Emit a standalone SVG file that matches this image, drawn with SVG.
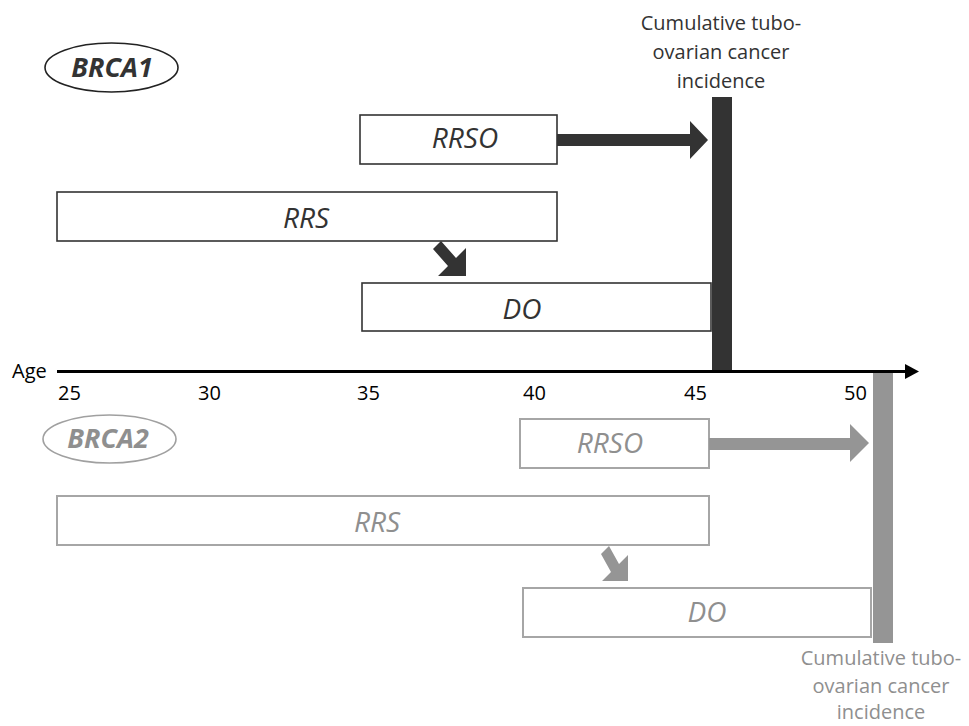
<svg xmlns="http://www.w3.org/2000/svg" width="969" height="726" viewBox="0 0 969 726">
<style>
text{font-family:"Open Sans","Liberation Sans",sans-serif}
.dk{fill:#333333}
.gr{fill:#8f8f8f}
.boxd{fill:#ffffff;stroke:#333333;stroke-width:1.6}
.boxg{fill:#ffffff;stroke:#a6a6a6;stroke-width:2}
.lbl{font-size:28px;font-style:italic;text-anchor:middle}
.gene{font-size:27px;font-style:italic;font-weight:bold;text-anchor:middle}
.tick{font-size:20px;fill:#000}
.note{font-size:20px;text-anchor:middle}
</style>
<rect width="969" height="726" fill="#ffffff"/>
<g id="brca1">
<ellipse cx="111.5" cy="67.5" rx="66.5" ry="24.5" fill="#ffffff" stroke="#222222" stroke-width="1.6"/>
<text class="gene dk" x="112" y="77">BRCA1</text>
</g>
<g id="brca2">
<ellipse cx="109.5" cy="439" rx="66.5" ry="24" fill="#ffffff" stroke="#a0a0a0" stroke-width="1.6"/>
<text class="gene gr" x="108" y="448">BRCA2</text>
</g>
<g id="incidence1">
<rect x="712" y="97" width="20" height="276" fill="#333333"/>
<text class="note dk" x="721" y="30">Cumulative tubo-</text>
<text class="note dk" x="721" y="59">ovarian cancer</text>
<text class="note dk" x="721" y="88">incidence</text>
</g>
<g id="incidence2">
<rect x="873" y="372" width="20" height="271" fill="#959595"/>
<text class="note gr" x="881" y="665">Cumulative tubo-</text>
<text class="note gr" x="881" y="693">ovarian cancer</text>
<text class="note gr" x="881" y="719">incidence</text>
</g>
<g id="rrso1">
<rect class="boxd" x="360" y="115" width="197" height="49"/>
<text class="lbl dk" x="465" y="148">RRSO</text>
</g>
<g id="rrs1">
<rect class="boxd" x="57" y="192" width="500" height="49"/>
<text class="lbl dk" x="306" y="228">RRS</text>
</g>
<g id="do1">
<rect class="boxd" x="362" y="283" width="349" height="48"/>
<text class="lbl dk" x="522" y="319">DO</text>
</g>
<g id="rrso2">
<rect class="boxg" x="520" y="419" width="189" height="49"/>
<text class="lbl gr" x="610" y="453">RRSO</text>
</g>
<g id="rrs2">
<rect class="boxg" x="57" y="496" width="652" height="49"/>
<text class="lbl gr" x="377" y="532">RRS</text>
</g>
<g id="do2">
<rect class="boxg" x="523" y="588" width="348" height="49"/>
<text class="lbl gr" x="707" y="622">DO</text>
</g>
<g id="axis">
<line x1="57" y1="371.5" x2="906" y2="371.5" stroke="#000000" stroke-width="3"/>
<polygon points="905,364 919,371.5 905,379" fill="#000000"/>
<text class="tick" x="12" y="378">Age</text>
<text class="tick" x="58" y="400">25</text>
<text class="tick" x="198" y="400">30</text>
<text class="tick" x="357" y="400">35</text>
<text class="tick" x="523" y="400">40</text>
<text class="tick" x="684" y="400">45</text>
<text class="tick" x="844" y="400">50</text>
</g>
<g id="connectors">
<polygon points="557,134 690,134 690,121 708,140 690,159 690,146 557,146" fill="#333333"/>
<polygon points="441,241 456,258 466,248 466,276 438,276 448,266 433,249" fill="#333333"/>
<polygon points="709,438 850,438 850,424 869,443 850,462 850,450 709,450" fill="#959595"/>
<polygon points="609,546 619,564 628,555 628,581 602,581 611,572 601,554" fill="#959595"/>
</g>
</svg>
